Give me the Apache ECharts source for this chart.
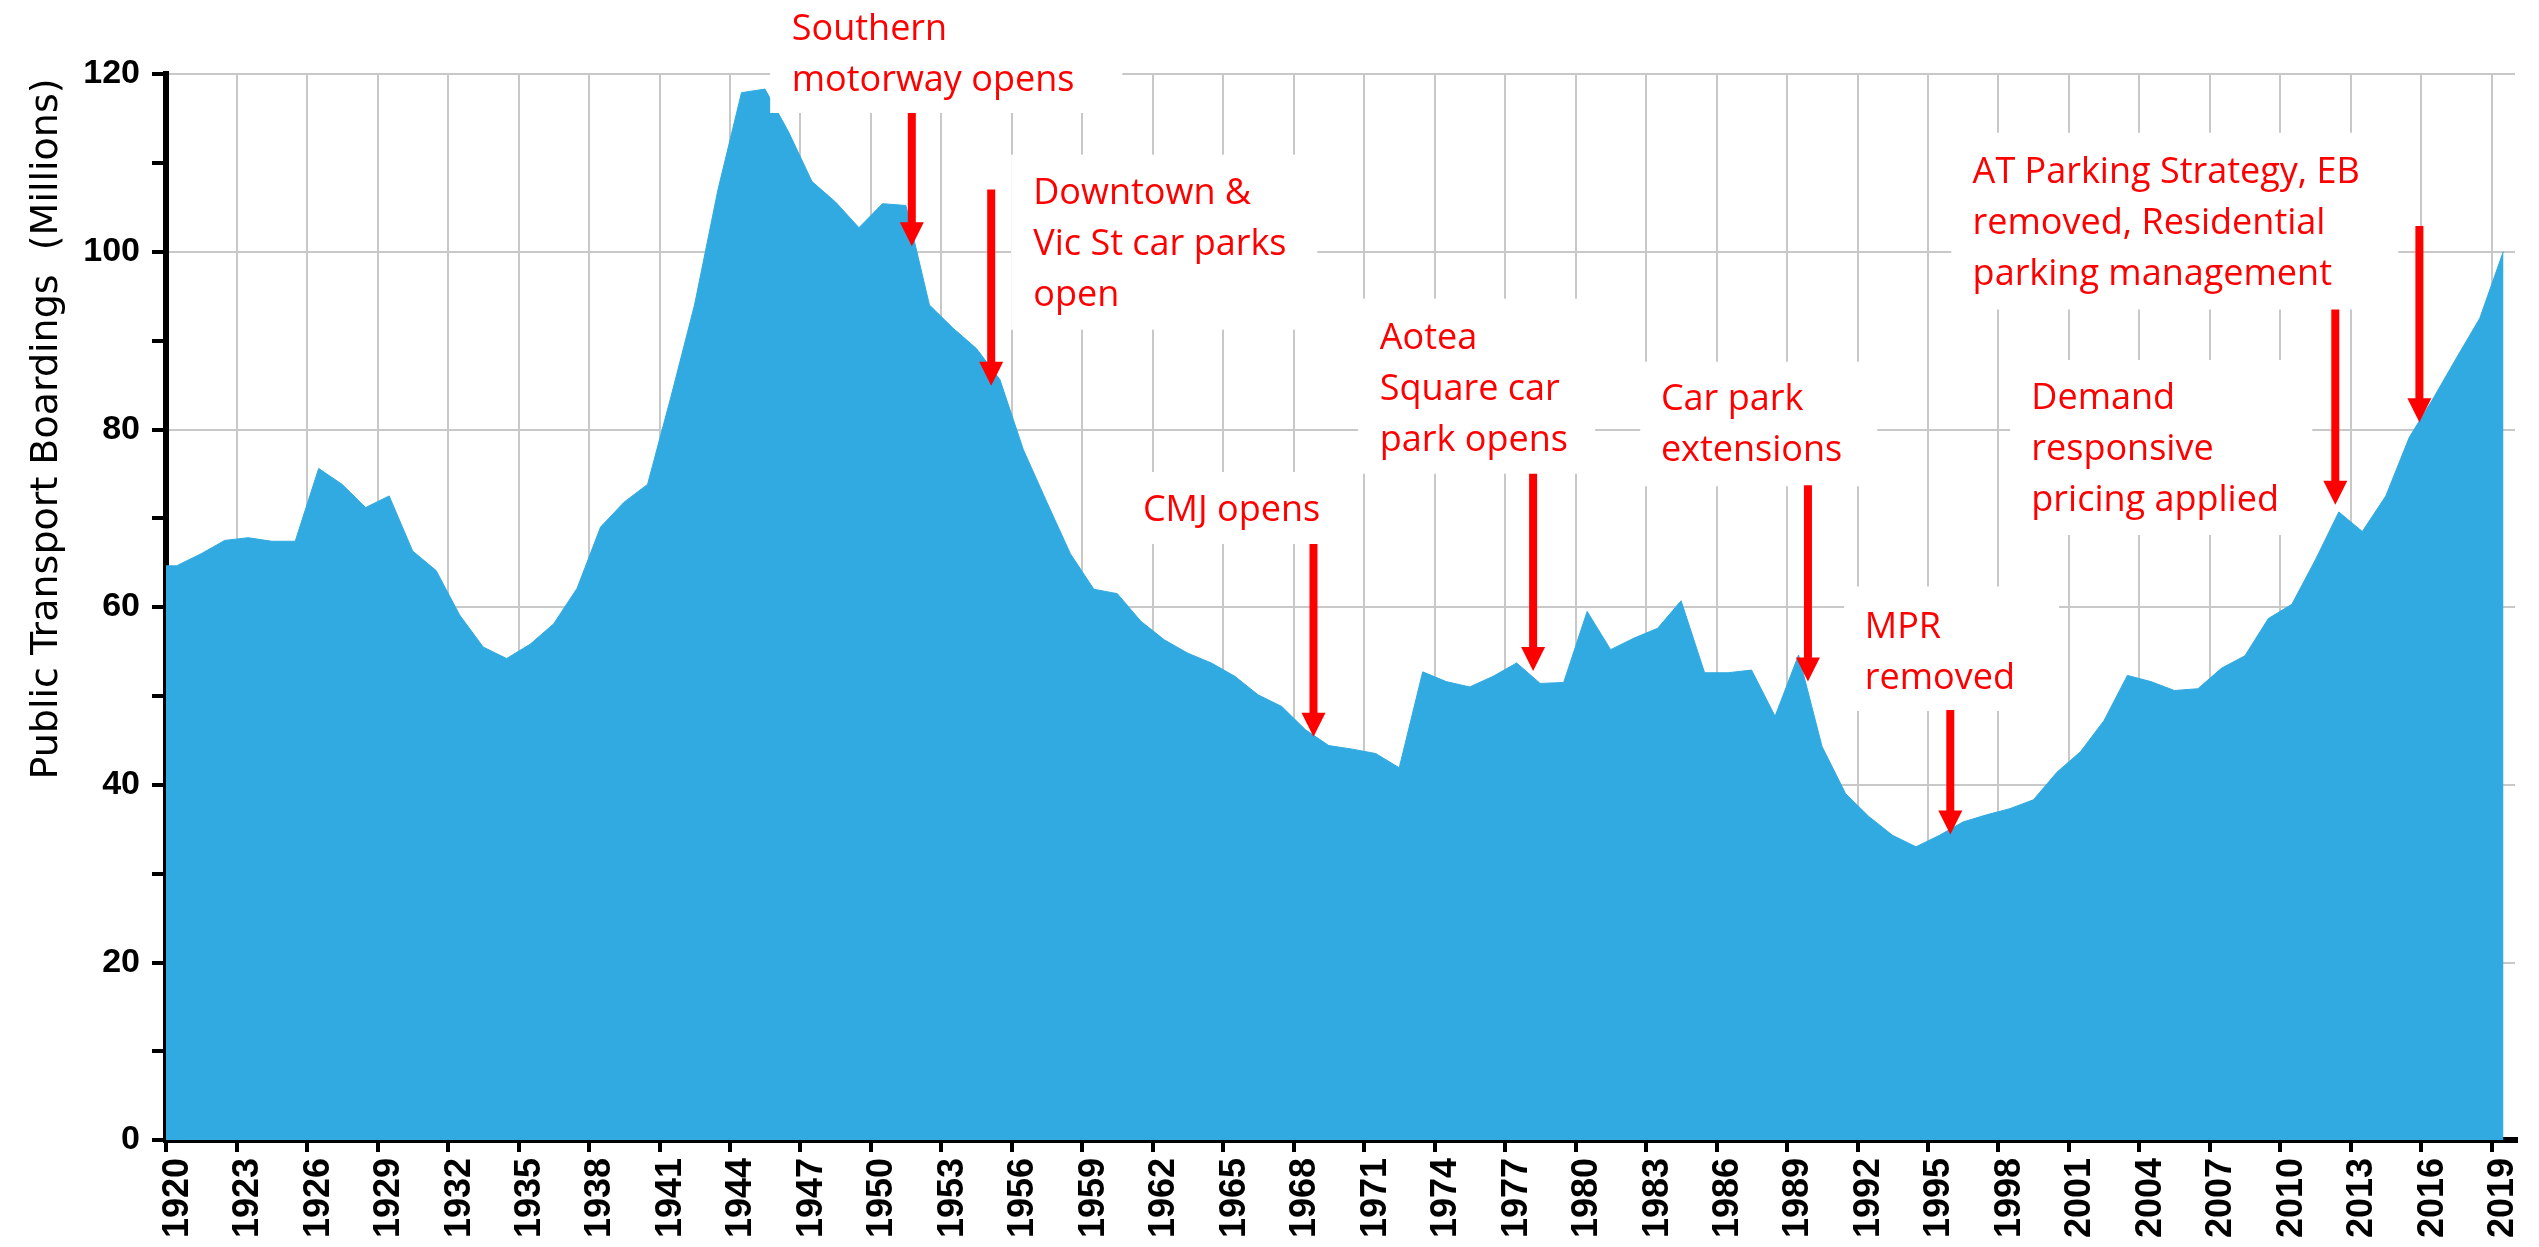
<!DOCTYPE html>
<html><head><meta charset="utf-8">
<script src="https://cdn.jsdelivr.net/npm/echarts@6/dist/echarts.min.js"></script>
<style>html,body{margin:0;padding:0;background:#fff}#c{width:2539px;height:1247px}</style>
</head><body><div id="c"></div>
<script>
const years = ['1920','1921','1922','1923','1924','1925','1926','1927','1928','1929',
  '1930','1931','1932','1933','1934','1935','1936','1937','1938','1939',
  '1940','1941','1942','1943','1944','1945','1946','1947','1948','1949',
  '1950','1951','1952','1953','1954','1955','1956','1957','1958','1959',
  '1960','1961','1962','1963','1964','1965','1966','1967','1968','1969',
  '1970','1971','1972','1973','1974','1975','1976','1977','1978','1979',
  '1980','1981','1982','1983','1984','1985','1986','1987','1988','1989',
  '1990','1991','1992','1993','1994','1995','1996','1997','1998','1999',
  '2000','2001','2002','2003','2004','2005','2006','2007','2008','2009',
  '2010','2011','2012','2013','2014','2015','2016','2017','2018','2019'];

const boardings = [64.7,66.0,67.5,67.8,67.4,67.4,75.6,73.8,71.2,72.5,
  66.3,64.1,59.1,55.5,54.2,55.8,58.1,62.1,69.0,71.8,
  73.8,83.7,94.0,107.0,117.9,118.3,113.5,107.9,105.6,102.7,
  105.4,105.2,94.0,91.4,89.1,85.6,77.7,71.8,66.0,62.0,
  61.5,58.4,56.3,54.8,53.7,52.2,50.1,48.8,46.2,44.4,
  44.0,43.5,41.9,52.7,51.6,51.0,52.2,53.7,51.4,51.5,
  59.5,55.2,56.5,57.6,60.7,52.6,52.6,52.9,47.7,54.6,
  44.3,39.0,36.4,34.3,33.0,34.3,35.8,36.6,37.3,38.3,
  41.4,43.7,47.2,52.3,51.6,50.6,50.8,53.1,54.5,58.7,
  60.3,65.3,70.7,68.5,72.5,79.1,83.4,88.0,92.5,100.0];

const xTickYears = [1920,1923,1926,1929,1932,1935,1938,1941,1944,1947,1950,1953,1956,1959,
  1962,1965,1968,1971,1974,1977,1980,1983,1986,1989,1992,1995,1998,2001,2004,2007,2010,2013,2016,2019];
const yTickLabels = [0,20,40,60,80,100,120];

// annotation text, white box [x1,yTop,x2,yBottom], text origin [x,y], arrow [x,yStart,yTip] in axis units
const annotations = [
 {text:'Southern\nmotorway opens', box:[1945.72,129.5,1960.71,115.6], at:[1946.64,127.8], arrow:[1951.75,115.6,100.6]},
 {text:'Downtown &\nVic St car parks\nopen', box:[1955.98,110.9,1969.01,91.2], at:[1956.92,109.4], arrow:[1955.13,107.0,84.9]},
 {text:'CMJ opens', box:[1960.67,75.2,1970.42,67.1], at:[1961.59,73.7], arrow:[1968.85,67.1,45.4]},
 {text:'Aotea\nSquare car\npark opens', box:[1970.75,94.7,1980.84,75.0], at:[1971.67,93.1], arrow:[1978.2,75.0,52.8]},
 {text:'Car park\nextensions', box:[1982.76,87.6,1992.85,73.6], at:[1983.64,86.2], arrow:[1989.9,73.7,51.6]},
 {text:'MPR\nremoved', box:[1991.44,62.3,2000.59,48.3], at:[1992.32,60.5], arrow:[1995.96,48.4,34.4]},
 {text:'Demand\nresponsive\npricing applied', box:[1998.51,87.8,2011.37,68.1], at:[1999.41,86.3], arrow:[2012.35,93.5,71.5]},
 {text:'AT Parking Strategy, EB\nremoved, Residential\nparking management', box:[1996.0,113.4,2015.03,93.5], at:[1996.91,111.7], arrow:[2015.93,102.9,80.8]}
];

const AREA = '#31AAE1';
const RED = '#ff0000';
const GRID = '#c8c8c8';

const chart = echarts.init(document.getElementById('c'), null, {renderer:'canvas'});

function renderBox(params, api) {
  const a = annotations[params.dataIndex];
  const p1 = api.coord([a.box[0], a.box[1]]);
  const p2 = api.coord([a.box[2], a.box[3]]);
  return {type:'rect', shape:{x:p1[0], y:p1[1], width:p2[0]-p1[0], height:p2[1]-p1[1]}, style:{fill:'#fff'}};
}
function renderNote(params, api) {
  const a = annotations[params.dataIndex];
  const t = api.coord(a.at);
  const s = api.coord([a.arrow[0], a.arrow[1]]);
  const e = api.coord([a.arrow[0], a.arrow[2]]);
  const head = 24, hw = 12, sw = 8;
  return {type:'group', children:[
    {type:'text', x:t[0], y:t[1], style:{text:a.text, fill:RED, fontSize:36, fontFamily:'"Open Sans"', lineHeight:51, align:'left', verticalAlign:'top'}},
    {type:'rect', shape:{x:s[0]-sw/2, y:s[1], width:sw, height:e[1]-s[1]-head+2}, style:{fill:RED}},
    {type:'polygon', shape:{points:[[e[0]-hw, e[1]-head],[e[0]+hw, e[1]-head],[e[0], e[1]]]}, style:{fill:RED}}
  ]};
}

chart.setOption({
  animation:false,
  backgroundColor:'#fff',
  grid:{left:166, right:24, top:74, bottom:107, containLabel:false},
  xAxis:[{
    type:'category', data:years, boundaryGap:true, position:'bottom',
    axisLine:{lineStyle:{color:'#000', width:6, cap:'square'}},
    axisTick:{show:false},
    axisLabel:{interval:2, rotate:90, margin:18, fontFamily:'Liberation Sans', fontWeight:'bold', fontSize:36, color:'#000', padding:[14,0,0,0]},
    splitLine:{show:false}
  },{
    type:'value', min:1920, max:2020, position:'bottom', offset:0,
    axisLine:{show:false},
    axisTick:{show:true, customValues:xTickYears, length:12, lineStyle:{color:'#000', width:4}},
    axisLabel:{show:false, customValues:xTickYears},
    splitLine:{show:true, lineStyle:{color:GRID, width:2}}
  }],
  yAxis:{
    type:'value', min:0, max:120, interval:20,
    axisLine:{show:true, lineStyle:{color:'#000', width:6, cap:'square'}},
    axisTick:{show:true, length:14, lineStyle:{color:'#000', width:4}},
    minorTick:{show:true, splitNumber:2, length:14, lineStyle:{color:'#000', width:4}},
    minorSplitLine:{show:false},
    axisLabel:{margin:26, fontFamily:'Liberation Sans', fontWeight:'bold', fontSize:34, color:'#000',
      formatter:function(v){ return yTickLabels.indexOf(v) >= 0 ? String(v) : ''; }},
    splitLine:{show:true, lineStyle:{color:GRID, width:2}},
    name:'Public Transport Boardings  (Millions)', nameLocation:'middle', nameRotate:90, nameGap:100,
    nameTextStyle:{fontFamily:'DejaVu Sans', fontSize:38, color:'#000', padding:[0,0,0,356]}
  },
  series:[
    {type:'bar', data:[boardings[0]], barWidth:'100%', itemStyle:{color:AREA}, z:1, silent:true},
    {type:'line', data:boardings, symbol:'none', showSymbol:false, lineStyle:{width:1, color:AREA},
      areaStyle:{color:AREA, opacity:1}, z:2, silent:true},
    {type:'custom', xAxisIndex:1, yAxisIndex:0, clip:false, z:10, silent:true,
      data:annotations.map(a => [a.arrow[0], a.arrow[2]]), renderItem:renderBox},
    {type:'custom', xAxisIndex:1, yAxisIndex:0, clip:false, z:11, silent:true,
      data:annotations.map(a => [a.arrow[0], a.arrow[2]]), renderItem:renderNote}
  ]
});
</script></body></html>
